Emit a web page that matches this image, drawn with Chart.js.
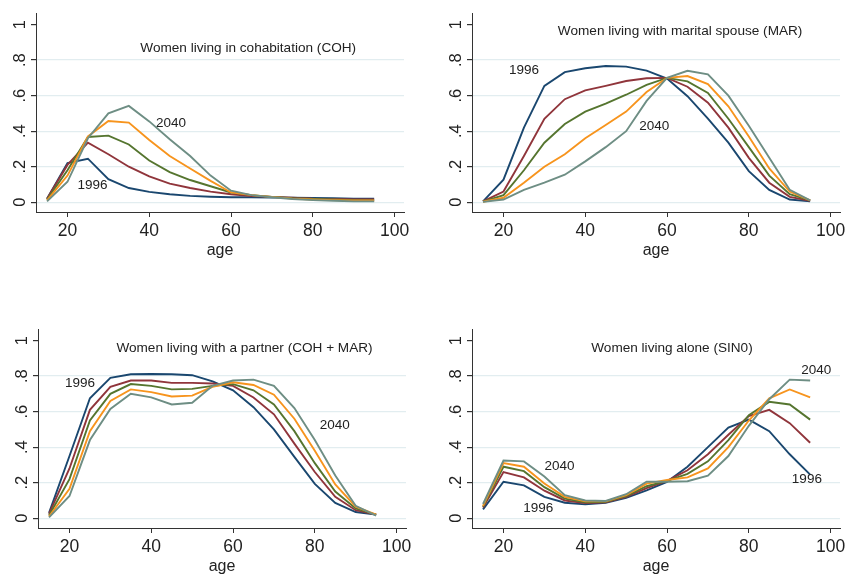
<!DOCTYPE html>
<html>
<head>
<meta charset="utf-8">
<script src="https://cdn.jsdelivr.net/npm/chart.js@4.4.1/dist/chart.umd.min.js"></script>
<style>
  body { margin: 0; background: #fff; }
  #wrap { position: relative; width: 845px; height: 575px; overflow: hidden; }
  .panel { position: absolute; width: 420px; height: 260px; }
</style>
</head>
<body>
<div id="wrap">
  <div class="panel" style="left:0px;top:0px"><canvas id="coh-chart"></canvas></div>
  <div class="panel" style="left:436px;top:0px"><canvas id="mar-chart"></canvas></div>
  <div class="panel" style="left:2px;top:316px"><canvas id="partner-chart"></canvas></div>
  <div class="panel" style="left:436px;top:316px"><canvas id="alone-chart"></canvas></div>
</div>
<script>
// Ages on the x axis
const ages = [15, 20, 25, 30, 35, 40, 45, 50, 55, 60, 65, 70, 75, 80, 85, 90, 95];
const xTicks = [20, 40, 60, 80, 100];
const yTicks = [0, 0.2, 0.4, 0.6, 0.8, 1];

// Women living in cohabitation (COH)
const coh1996 = [0.02, 0.22, 0.245, 0.13, 0.08, 0.058, 0.045, 0.036, 0.031, 0.028, 0.028, 0.027, 0.026, 0.024, 0.022, 0.02, 0.02];
const cohMid1 = [0.02, 0.21, 0.335, 0.27, 0.20, 0.145, 0.105, 0.08, 0.06, 0.045, 0.035, 0.03, 0.025, 0.02, 0.018, 0.015, 0.015];
const cohMid2 = [0.015, 0.18, 0.367, 0.375, 0.325, 0.235, 0.17, 0.125, 0.09, 0.055, 0.04, 0.03, 0.022, 0.018, 0.015, 0.012, 0.01];
const cohMid3 = [0.01, 0.15, 0.37, 0.457, 0.448, 0.35, 0.26, 0.19, 0.12, 0.055, 0.04, 0.03, 0.02, 0.015, 0.012, 0.01, 0.01];
const coh2040 = [0.005, 0.115, 0.36, 0.50, 0.542, 0.455, 0.355, 0.26, 0.15, 0.065, 0.04, 0.028, 0.018, 0.012, 0.008, 0.005, 0.005];

// Women living with marital spouse (MAR)
const mar1996 = [0.005, 0.127, 0.42, 0.655, 0.732, 0.754, 0.767, 0.763, 0.741, 0.696, 0.597, 0.47, 0.335, 0.175, 0.069, 0.015, 0.005];
const marMid1 = [0.005, 0.06, 0.26, 0.47, 0.58, 0.63, 0.655, 0.682, 0.698, 0.70, 0.65, 0.56, 0.42, 0.25, 0.11, 0.03, 0.008];
const marMid2 = [0.003, 0.04, 0.18, 0.335, 0.44, 0.51, 0.555, 0.605, 0.66, 0.70, 0.68, 0.615, 0.47, 0.31, 0.15, 0.045, 0.01];
const marMid3 = [0.003, 0.025, 0.11, 0.20, 0.27, 0.36, 0.435, 0.51, 0.62, 0.70, 0.71, 0.665, 0.54, 0.37, 0.19, 0.06, 0.01];
const mar2040 = [0.002, 0.015, 0.07, 0.11, 0.155, 0.23, 0.31, 0.40, 0.57, 0.70, 0.74, 0.72, 0.60, 0.43, 0.25, 0.07, 0.01];

// Women living with a partner (COH + MAR)
const ptn1996 = [0.03, 0.35, 0.675, 0.79, 0.81, 0.812, 0.81, 0.805, 0.77, 0.72, 0.625, 0.50, 0.345, 0.193, 0.086, 0.035, 0.02];
const ptnMid1 = [0.025, 0.28, 0.61, 0.74, 0.775, 0.775, 0.762, 0.762, 0.758, 0.745, 0.68, 0.585, 0.42, 0.26, 0.12, 0.045, 0.02];
const ptnMid2 = [0.015, 0.22, 0.55, 0.70, 0.755, 0.745, 0.725, 0.728, 0.745, 0.755, 0.72, 0.64, 0.49, 0.31, 0.15, 0.055, 0.02];
const ptnMid3 = [0.01, 0.165, 0.49, 0.66, 0.725, 0.71, 0.685, 0.69, 0.74, 0.765, 0.75, 0.695, 0.56, 0.38, 0.19, 0.065, 0.02];
const ptn2040 = [0.005, 0.125, 0.44, 0.615, 0.70, 0.68, 0.64, 0.65, 0.745, 0.775, 0.78, 0.745, 0.62, 0.44, 0.24, 0.07, 0.015];

// Women living alone (SIN0)
const sin1996 = [0.05, 0.205, 0.185, 0.12, 0.087, 0.078, 0.087, 0.115, 0.157, 0.205, 0.29, 0.40, 0.51, 0.555, 0.49, 0.36, 0.245];
const sinMid1 = [0.06, 0.26, 0.23, 0.155, 0.10, 0.085, 0.09, 0.12, 0.17, 0.21, 0.27, 0.36, 0.47, 0.575, 0.61, 0.535, 0.425];
const sinMid2 = [0.065, 0.29, 0.265, 0.175, 0.11, 0.09, 0.093, 0.125, 0.18, 0.21, 0.25, 0.32, 0.44, 0.58, 0.655, 0.64, 0.555];
const sinMid3 = [0.07, 0.31, 0.29, 0.195, 0.12, 0.095, 0.095, 0.13, 0.195, 0.215, 0.23, 0.28, 0.40, 0.55, 0.675, 0.725, 0.68];
const sin2040 = [0.08, 0.325, 0.32, 0.235, 0.13, 0.10, 0.097, 0.135, 0.205, 0.205, 0.208, 0.24, 0.35, 0.52, 0.67, 0.78, 0.775];

// Colours: 1996 -> 2040
const seriesColors = ['#1a476f', '#90353b', '#55752f', '#f7941d', '#6e8e84'];

const fontFamily = 'Arial, "Liberation Sans", Helvetica, sans-serif';
const axisColor = '#333333';
const gridColor = '#e2edf0';

// Text drawn inside the plot area, placed in data units
const panelText = {
  'coh-chart': { title: 'Women living in cohabitation (COH)', tx: 64.2, ty: 0.868,
    notes: [{ text: '2040', x: 45.3, y: 0.444 }, { text: '1996', x: 26.1, y: 0.096 }] },
  'mar-chart': { title: 'Women living with marital spouse (MAR)', tx: 63.2, ty: 0.96,
    notes: [{ text: '1996', x: 25.0, y: 0.743 }, { text: '2040', x: 56.9, y: 0.426 }] },
  'partner-chart': { title: 'Women living with a partner (COH + MAR)', tx: 62.8, ty: 0.959,
    notes: [{ text: '1996', x: 22.6, y: 0.757 }, { text: '2040', x: 84.9, y: 0.523 }] },
  'alone-chart': { title: 'Women living alone (SIN0)', tx: 61.2, ty: 0.959,
    notes: [{ text: '2040', x: 96.5, y: 0.832 }, { text: '2040', x: 33.7, y: 0.292 },
            { text: '1996', x: 28.5, y: 0.058 }, { text: '1996', x: 94.2, y: 0.22 }] }
};

const textPlugin = {
  id: 'panelText',
  afterDatasetsDraw(chart) {
    const info = panelText[chart.canvas.id];
    if (!info) return;
    const ctx = chart.ctx;
    const xs = chart.scales.x;
    const ys = chart.scales.y;
    ctx.save();
    ctx.fillStyle = '#222';
    ctx.textAlign = 'center';
    ctx.textBaseline = 'middle';
    ctx.font = '13.6px ' + fontFamily;
    ctx.fillText(info.title, xs.getPixelForValue(info.tx), ys.getPixelForValue(info.ty));
    ctx.font = '13.5px ' + fontFamily;
    info.notes.forEach(n => {
      ctx.fillText(n.text, xs.getPixelForValue(n.x), ys.getPixelForValue(n.y));
    });
    ctx.restore();
  }
};

function formatY(v) {
  if (v === 0) return '0';
  if (v === 1) return '1';
  return v.toFixed(1).replace('0.', '.');
}

function renderPanel(canvasId, seriesList) {
  const ctx = document.getElementById(canvasId).getContext('2d');
  // draw 2040 last so it sits on top
  const datasets = seriesList.map((values, i) => ({
    data: ages.map((a, j) => ({ x: a, y: values[j] })),
    borderColor: seriesColors[i],
    borderWidth: 1.9,
    pointRadius: 0,
    tension: 0,
    fill: false,
    order: seriesList.length - i
  }));

  return new Chart(ctx, {
    type: 'line',
    data: { datasets: datasets },
    options: {
      responsive: true,
      maintainAspectRatio: false,
      animation: false,
      events: [],
      layout: { padding: { top: 6, right: 16, left: 0, bottom: 0 } },
      plugins: { legend: { display: false }, tooltip: { enabled: false } },
      scales: {
        x: {
          type: 'linear',
          min: 12.3,
          max: 102.3,
          afterBuildTicks: scale => { scale.ticks = xTicks.map(v => ({ value: v })); },
          afterFit: scale => { scale.height = 48; },
          border: { color: axisColor, width: 1 },
          grid: { drawOnChartArea: false, drawTicks: true, tickLength: 5, tickColor: axisColor },
          ticks: { color: '#222', font: { family: fontFamily, size: 17.5 }, padding: 4, maxRotation: 0 },
          title: { display: true, text: 'age', color: '#222', font: { family: fontFamily, size: 16 }, padding: 0 }
        },
        y: {
          type: 'linear',
          min: -0.055,
          max: 1.06,
          afterBuildTicks: scale => { scale.ticks = yTicks.map(v => ({ value: v })); },
          afterFit: scale => { scale.width = 36; },
          border: { color: axisColor, width: 1 },
          grid: {
            color: c => (c.tick && c.tick.value < 0.99 ? gridColor : 'rgba(0,0,0,0)'),
            lineWidth: 1.2,
            tickLength: 5,
            tickColor: axisColor
          },
          ticks: {
            color: '#222',
            font: { family: fontFamily, size: 16.5 },
            minRotation: 90,
            maxRotation: 90,
            crossAlign: 'center',
            padding: 4,
            callback: v => formatY(v)
          }
        }
      }
    },
    plugins: [textPlugin]
  });
}

renderPanel('coh-chart', [coh1996, cohMid1, cohMid2, cohMid3, coh2040]);
renderPanel('mar-chart', [mar1996, marMid1, marMid2, marMid3, mar2040]);
renderPanel('partner-chart', [ptn1996, ptnMid1, ptnMid2, ptnMid3, ptn2040]);
renderPanel('alone-chart', [sin1996, sinMid1, sinMid2, sinMid3, sin2040]);
</script>
</body>
</html>
